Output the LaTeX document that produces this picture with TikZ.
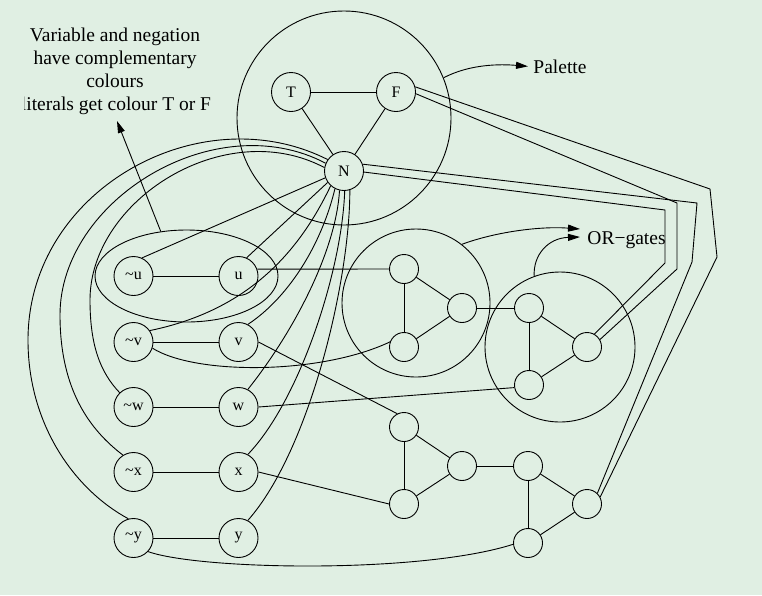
\documentclass[tikz,border=0pt]{standalone}
\usepackage{fontspec}
\setmainfont{Liberation Serif}
\usetikzlibrary{shapes.geometric,arrows.meta}
\definecolor{bg}{HTML}{E0EFE3}
\newcommand{\negl}{\textasciitilde}
\begin{document}
\begin{tikzpicture}[x=1pt,y=-1pt,line width=0.9pt,
  lit/.style={circle,draw,minimum size=39pt,inner sep=0pt,font=\fontsize{16}{16}\selectfont},
  gnode/.style={circle,draw,minimum size=29pt,inner sep=0pt},
  ring/.style={circle,draw,inner sep=0pt},
  txt/.style={font=\fontsize{19.5}{23}\selectfont,inner sep=0pt},
  arr/.style={-{Triangle[length=12pt,width=7pt]}}]
\fill[bg] (0,0) rectangle (762,595);
\useasboundingbox (0,0) rectangle (762,595);

% palette
\node[ring,minimum size=214pt] (pal) at (344,118) {};
\node[lit] (T) at (291,92) {T};
\node[lit] (F) at (396,92) {F};
\node[lit] (N) at (344,171) {N};

% literals
\node[ellipse,draw,minimum width=183pt,minimum height=92pt,inner sep=0pt] (grp) at (186.5,276) {};
\node[lit] (nu) at (133.5,276) {\negl u};
\node[lit] (u)  at (238.5,276) {u};
\node[lit] (nv) at (133.5,342) {\negl v};
\node[lit] (v)  at (238.5,342) {v};
\node[lit] (nw) at (133.5,407) {\negl w};
\node[lit] (w)  at (238.5,407) {w};
\node[lit] (nx) at (133.5,472) {\negl x};
\node[lit] (x)  at (238.5,472) {x};
\node[lit] (ny) at (133.5,538) {\negl y};
\node[lit] (y)  at (238.5,538) {y};

% gates
\node[ring,minimum size=148pt] (c1) at (416,303) {};
\node[ring,minimum size=150pt] (c2) at (560,347) {};
\node[gnode] (a1) at (404,269) {};
\node[gnode] (b1) at (404,347) {};
\node[gnode] (r1) at (462,308) {};
\node[gnode] (a2) at (529,308) {};
\node[gnode] (b2) at (529,385) {};
\node[gnode] (r2) at (587,347) {};
\node[gnode] (a3) at (404,427) {};
\node[gnode] (b3) at (404,504) {};
\node[gnode] (r3) at (462,466) {};
\node[gnode] (a4) at (528,466) {};
\node[gnode] (b4) at (528,543) {};
\node[gnode] (r4) at (587,504) {};
\foreach \g in {1,2,3,4} {\draw (a\g) -- (b\g); \draw (a\g) -- (r\g); \draw (b\g) -- (r\g);}
\draw (r1) -- (a2);
\draw (r3) -- (a4);

% texts
\node[txt,anchor=base] (t1) at (115,41) {Variable and negation};
\node[txt,anchor=base] (t2) at (115,64) {have complementary};
\node[txt,anchor=base] (t3) at (115,87) {colours};
\begin{scope}
\clip (24,90) rectangle (260,130);
\node[txt,anchor=base] (t4) at (116,110) {literals get colour T or F};
\end{scope}
\coordinate (tip) at (117,121);
\draw[arr] (grp.120) -- (tip);

\node[txt,anchor=base west,inner xsep=5pt] (palt) at (528,73) {Palette};
\node[txt,anchor=base west,inner xsep=5pt] (ort) at (582,244) {OR−gates};
\coordinate (o1) at (580,229);
\coordinate (o2) at (580,237);
\draw[arr] (pal.22) .. controls (470,64) and (500,64) .. (palt.west);
\draw[arr] (c1.52) .. controls (495,232) and (540,226) .. (o1);
\draw[arr] (c2.110) .. controls (533,255) and (548,238) .. (o2);

% palette edges
\draw (T) -- (F);
\draw (T) -- (N);
\draw (F) -- (N);

% literal pairs
\draw (nu) -- (u);
\draw (nv) -- (v);
\draw (nw) -- (w);
\draw (nx) -- (x);
\draw (ny) -- (y);

% N to literals
\draw (N.200) -- (nu.65);
\draw (N.215) -- (u.66);
\draw (N.228) .. controls (300,250) and (250,310) .. (nv.35);
\draw (N.243) .. controls (320,250) and (285,300) .. (v.62);
\draw (N.257) .. controls (336,250) and (295,330) .. (w.62);
\draw (N.272) .. controls (342,270) and (300,400) .. (x.62);
\draw (N.287) .. controls (350,280) and (310,450) .. (y.62);
\draw (N.145) .. controls (200,95) and (28,190) .. (28,340) .. controls (28,425) and (75,490) .. (ny.105);
\draw (N.157) .. controls (215,105) and (60,200) .. (60,315) .. controls (60,390) and (90,430) .. (nx.122);
\draw (N.170) .. controls (225,115) and (90,200) .. (90,300) .. controls (90,345) and (100,372) .. (nw.134);

% literals to gates
\draw (u.20) -- (a1.west);
\draw (nv.-18) .. controls (195,375) and (320,375) .. (b1.160);
\draw (v.east) -- (a3.117);
\draw (w.east) -- (b2.190);
\draw (x.east) -- (b3.west);
\draw (ny.-43) .. controls (200,570) and (420,574) .. (b4.185);

% outputs to palette
\draw (F.15) -- (710,189) -- (717,257) -- (r4.28);
\draw (N.20) -- (697,203) -- (692,262) -- (r4.46);
\draw (F.-5) -- (677,203) -- (677,269) -- (r2.30);
\draw (N.-3) -- (665,210) -- (665,263) -- (r2.60);
\end{tikzpicture}
\end{document}
